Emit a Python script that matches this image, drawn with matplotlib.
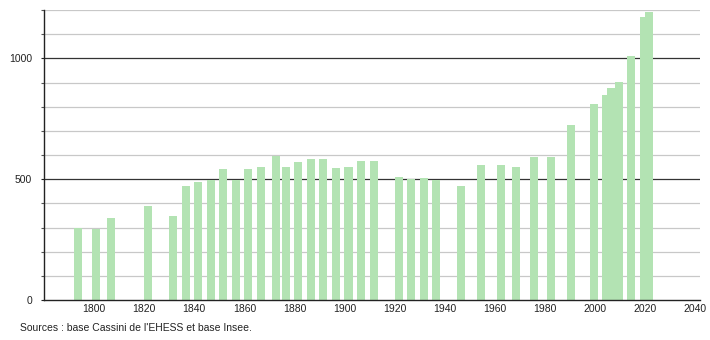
import matplotlib
matplotlib.use("Agg")
import matplotlib.pyplot as plt
from matplotlib.ticker import MultipleLocator

# census years and population
years = [1793, 1800, 1806, 1821, 1831, 1836, 1841, 1846, 1851, 1856,
         1861, 1866, 1872, 1876, 1881, 1886, 1891, 1896, 1901, 1906,
         1911, 1921, 1926, 1931, 1936, 1946, 1954, 1962, 1968, 1975,
         1982, 1990, 1999, 2004, 2006, 2009, 2014, 2019, 2021]
population = [297, 295, 340, 390, 348, 473, 487, 498, 544, 497,
              544, 550, 595, 550, 573, 585, 583, 546, 550, 577,
              575, 510, 502, 506, 495, 473, 560, 560, 550, 593,
              593, 726, 812, 848, 878, 903, 1008, 1169, 1192]
x_ticks = [1800, 1820, 1840, 1860, 1880, 1900, 1920, 1940, 1960, 1980, 2000, 2020, 2040]
y_labels = [0, 500, 1000]
source_text = "Sources : base Cassini de l'EHESS et base Insee."

plt.rcParams['font.family'] = ['Liberation Sans', 'DejaVu Sans']

fig = plt.figure(figsize=(7.1, 3.4), dpi=100)
ax = fig.add_axes([0.062, 0.1176, 0.924, 0.853])

# bars sit a little right of the census year in the original
shift = 0.6
ax.bar([y + shift for y in years], population, width=3.2,
       color='#b3e3b3', edgecolor='none', zorder=3)

# grid: light lines every 100, dark lines at 500 / 1000
for v in range(100, 1300, 100):
    if v % 500 == 0:
        ax.axhline(v, color='#333333', linewidth=0.9, zorder=1)
    else:
        ax.axhline(v, color='#c8c8c8', linewidth=0.9, zorder=1)

ax.set_xlim(1780, 2042)
ax.set_ylim(0, 1200)

ax.set_xticks(x_ticks)
ax.set_xticklabels([str(t) for t in x_ticks])
ax.set_yticks(y_labels)
ax.yaxis.set_minor_locator(MultipleLocator(100))

ax.tick_params(axis='x', length=0, pad=3, labelsize=7.5, colors='#222222')
ax.tick_params(axis='y', which='major', length=2.5, width=0.8, pad=6, labelsize=7.5, colors='#222222')
ax.tick_params(axis='y', which='minor', length=2.5, width=0.8, color='#555555')

for side in ['top', 'right']:
    ax.spines[side].set_visible(False)
ax.spines['left'].set_color('#222222')
ax.spines['bottom'].set_color('#222222')
ax.spines['left'].set_linewidth(1.0)
ax.spines['bottom'].set_linewidth(1.0)
ax.spines['bottom'].set_zorder(4)

fig.text(0.028, 0.035, source_text, fontsize=7.5, color='#222222', va='center', ha='left')

plt.savefig('out.png', dpi=100)
plt.close()
